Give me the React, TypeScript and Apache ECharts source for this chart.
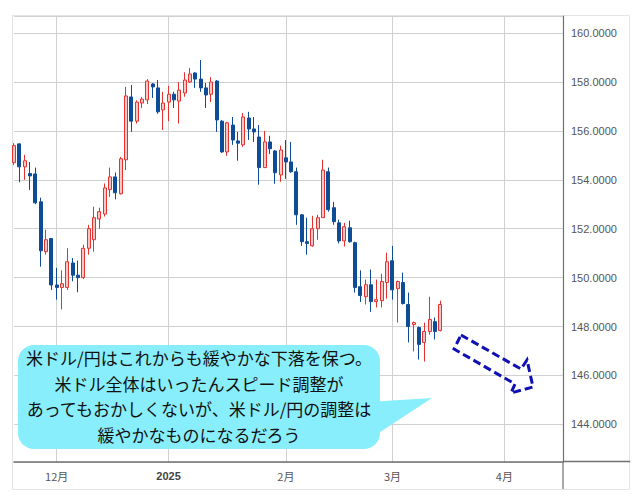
import { useEffect, useRef } from "react";
import * as echarts from "echarts";

// trading days that have a candle
const tradingDays = [
  "2024-11-20", "2024-11-21", "2024-11-22", "2024-11-25", "2024-11-26", "2024-11-27", "2024-11-28", "2024-11-29",
  "2024-12-02", "2024-12-03", "2024-12-04", "2024-12-05", "2024-12-06", "2024-12-09", "2024-12-10", "2024-12-11",
  "2024-12-12", "2024-12-13", "2024-12-16", "2024-12-17", "2024-12-18", "2024-12-19", "2024-12-20", "2024-12-23",
  "2024-12-24", "2024-12-26", "2024-12-27", "2024-12-30", "2024-12-31", "2025-01-02", "2025-01-03", "2025-01-06",
  "2025-01-07", "2025-01-08", "2025-01-09", "2025-01-10", "2025-01-13", "2025-01-14", "2025-01-15", "2025-01-16",
  "2025-01-17", "2025-01-20", "2025-01-21", "2025-01-22", "2025-01-23", "2025-01-24", "2025-01-27", "2025-01-28",
  "2025-01-29", "2025-01-30", "2025-01-31", "2025-02-03", "2025-02-04", "2025-02-05", "2025-02-06", "2025-02-07",
  "2025-02-10", "2025-02-11", "2025-02-12", "2025-02-13", "2025-02-14", "2025-02-17", "2025-02-18", "2025-02-19",
  "2025-02-20", "2025-02-21", "2025-02-24", "2025-02-25", "2025-02-26", "2025-02-27", "2025-02-28", "2025-03-03",
  "2025-03-04", "2025-03-05", "2025-03-06", "2025-03-07", "2025-03-10", "2025-03-11", "2025-03-12", "2025-03-13",
  "2025-03-14",
];

// [open, close, low, high]
const ohlc = [
  [154.7, 155.4, 154.6, 155.5],
  [155.47, 154.53, 153.9, 155.5],
  [154.53, 154.78, 154.0, 155.02],
  [154.26, 154.16, 153.59, 154.73],
  [154.24, 153.06, 153.0, 154.5],
  [153.1, 151.1, 150.45, 153.27],
  [151.06, 151.55, 150.94, 151.96],
  [151.6, 149.7, 149.5, 151.6],
  [149.7, 149.6, 149.1, 150.4],
  [149.6, 149.75, 148.7, 150.3],
  [149.6, 150.65, 149.5, 151.2],
  [150.6, 150.1, 149.85, 150.8],
  [150.1, 150.0, 149.4, 150.7],
  [150.0, 151.2, 149.95, 151.35],
  [151.2, 152.0, 150.94, 152.16],
  [151.55, 152.45, 151.06, 152.9],
  [152.4, 152.7, 152.0, 152.86],
  [152.6, 153.67, 152.5, 153.85],
  [153.6, 154.12, 153.3, 154.5],
  [154.12, 153.47, 153.2, 154.3],
  [153.43, 154.86, 153.4, 154.94],
  [154.82, 157.43, 154.4, 157.8],
  [157.39, 156.4, 155.96, 157.88],
  [156.4, 157.18, 156.3, 157.25],
  [157.14, 157.3, 156.94, 157.39],
  [157.27, 158.04, 157.1, 158.12],
  [157.92, 157.8, 157.35, 157.96],
  [157.76, 156.78, 156.7, 158.08],
  [156.86, 157.14, 156.04, 157.6],
  [157.18, 157.5, 156.4, 157.84],
  [157.5, 157.27, 156.94, 157.6],
  [157.22, 157.67, 156.3, 158.0],
  [157.55, 158.08, 157.4, 158.4],
  [158.0, 158.33, 157.96, 158.57],
  [158.37, 158.12, 157.76, 158.4],
  [158.12, 157.76, 157.6, 158.9],
  [157.76, 157.47, 156.94, 157.96],
  [157.5, 158.0, 157.18, 158.2],
  [158.04, 156.45, 155.96, 158.08],
  [156.4, 155.14, 155.1, 156.45],
  [155.14, 156.33, 154.98, 156.37],
  [156.24, 155.63, 155.43, 156.57],
  [155.59, 155.5, 154.78, 155.96],
  [155.43, 156.57, 155.35, 156.73],
  [156.53, 156.08, 155.63, 156.78],
  [156.08, 155.96, 155.55, 156.57],
  [155.75, 154.5, 153.8, 156.24],
  [154.5, 155.55, 154.5, 156.0],
  [155.55, 155.27, 155.06, 155.8],
  [155.18, 154.29, 153.84, 155.22],
  [154.2, 155.22, 153.92, 155.4],
  [154.9, 154.73, 154.04, 155.63],
  [154.73, 154.33, 154.29, 155.55],
  [154.33, 152.57, 152.16, 154.5],
  [152.57, 151.47, 151.3, 152.6],
  [151.47, 151.4, 150.94, 152.45],
  [151.3, 152.0, 151.27, 152.53],
  [152.0, 152.45, 151.55, 152.57],
  [152.45, 154.4, 152.45, 154.82],
  [154.33, 152.78, 152.7, 154.5],
  [152.86, 152.29, 152.16, 153.1],
  [152.24, 151.5, 151.4, 152.37],
  [151.5, 152.08, 151.27, 152.24],
  [152.04, 151.47, 151.43, 152.33],
  [151.43, 149.6, 149.39, 151.47],
  [149.63, 149.27, 149.0, 150.3],
  [149.22, 149.71, 148.9, 149.92],
  [149.71, 149.02, 148.6, 150.33],
  [149.02, 149.1, 148.78, 149.92],
  [149.06, 149.84, 148.78, 150.16],
  [149.8, 150.65, 149.14, 151.02],
  [150.69, 149.5, 149.1, 151.3],
  [149.55, 149.84, 148.16, 149.88],
  [149.8, 148.94, 148.9, 150.2],
  [148.9, 148.0, 147.35, 149.39],
  [148.08, 148.16, 146.98, 148.2],
  [147.96, 147.27, 146.65, 148.0],
  [147.35, 147.8, 146.57, 148.16],
  [147.8, 148.29, 147.67, 149.22],
  [148.2, 147.8, 147.47, 148.37],
  [147.84, 148.9, 147.8, 149.06],
];

// empty days to the right of the last candle
const futureDays = [
  "2025-03-17", "2025-03-18", "2025-03-19", "2025-03-20", "2025-03-21", "2025-03-24", "2025-03-25", "2025-03-26",
  "2025-03-27", "2025-03-28", "2025-03-31", "2025-04-01", "2025-04-02", "2025-04-03", "2025-04-04", "2025-04-07",
  "2025-04-08", "2025-04-09", "2025-04-10", "2025-04-11", "2025-04-14", "2025-04-15", "2025-04-16",
];

const monthLabels: Record<string, string> = {
  "2024-12-02": "12月",
  "2025-01-02": "2025",
  "2025-02-03": "2月",
  "2025-03-03": "3月",
  "2025-04-01": "4月",
};

const noteLines = [
  "米ドル/円はこれからも緩やかな下落を保つ。",
  "米ドル全体はいったんスピード調整が",
  "あってもおかしくないが、米ドル/円の調整は",
  "緩やかなものになるだろう",
];

const UP = "#e5322f";
const UP_FILL = "#fbc6c6";
const DOWN = "#0f4c97";
const GRID = "#d0d0d0";
const AXIS = "#707070";

export default function App() {
  const containerRef = useRef<HTMLDivElement | null>(null);

  useEffect(() => {
    if (!containerRef.current) return;
    const chart = echarts.init(containerRef.current, null, { renderer: "svg" });
    const categories = [...tradingDays, ...futureDays];
    const isMonthStart = (_i: number, value: string) => value in monthLabels;

    chart.setOption({
      animation: false,
      grid: { left: 14, right: 77, top: 16, bottom: 38 },
      xAxis: {
        type: "category",
        data: categories,
        boundaryGap: false,
        axisLine: { show: true, lineStyle: { color: AXIS, width: 1.5 } },
        axisTick: { show: false },
        axisLabel: {
          interval: isMonthStart,
          formatter: (v: string) => {
            const label = monthLabels[v] ?? "";
            return label === "2025" ? `{b|${label}}` : label;
          },
          color: "#555",
          fontSize: 11,
          fontFamily: "Noto Sans CJK JP",
          margin: 8,
          rich: { b: { fontWeight: "bold", fontSize: 11, color: "#444", fontFamily: "Liberation Sans" } },
        },
        splitLine: { show: true, interval: isMonthStart, lineStyle: { color: GRID, width: 1 } },
      },
      yAxis: {
        type: "value",
        position: "right",
        min: 142.46,
        max: 160.7,
        splitNumber: 9,
        axisLine: { show: true, lineStyle: { color: AXIS, width: 1.2 } },
        axisTick: { show: false },
        axisLabel: {
          color: "#555",
          fontSize: 11,
          fontFamily: "Liberation Sans",
          margin: 8,
          formatter: (v: number) => {
            const r = Math.round(v);
            return Math.abs(v - r) < 1e-6 && r % 2 === 0 ? v.toFixed(4) : "";
          },
        },
        splitLine: { show: true, lineStyle: { color: GRID, width: 1 } },
      },
      series: [
        {
          type: "candlestick",
          data: ohlc,
          barWidth: 3.5,
          clip: true,
          itemStyle: {
            color: UP_FILL,
            borderColor: UP,
            color0: DOWN,
            borderColor0: DOWN,
            borderWidth: 1,
          },
        },
      ],
      graphic: [
        {
          type: "rect",
          silent: true,
          z: -1,
          shape: { x: 12.5, y: 15.5, width: 617, height: 474 },
          style: { fill: "none", stroke: "#e4e4e4", lineWidth: 1 },
        },
        {
          type: "line",
          silent: true,
          shape: { x1: 563, y1: 461.5, x2: 630, y2: 461.5 },
          style: { stroke: AXIS, lineWidth: 1.5 },
        },
        {
          type: "line",
          silent: true,
          shape: { x1: 563, y1: 461.5, x2: 563, y2: 489 },
          style: { stroke: AXIS, lineWidth: 1.2 },
        },
        {
          type: "polygon",
          silent: true,
          z: 10,
          shape: { points: [[368, 402], [432, 398], [368, 440]] },
          style: { fill: "#88eefc" },
        },
        {
          type: "rect",
          silent: true,
          z: 10,
          shape: { x: 18, y: 345, width: 362, height: 104, r: 16 },
          style: { fill: "#88eefc" },
        },
        {
          type: "text",
          silent: true,
          z: 11,
          style: {
            text: noteLines.join("\n"),
            x: 199,
            y: 396,
            align: "center",
            verticalAlign: "middle",
            fontSize: 17,
            fontFamily: "Noto Sans CJK JP",
            lineHeight: 25.5,
            fill: "#111",
          },
        },
        {
          type: "polygon",
          silent: true,
          z: 10,
          shape: {
            points: [[461, 335], [521, 369], [527, 360], [533, 387], [511, 393], [515, 384], [454, 349]],
          },
          style: { fill: "none", stroke: "#1010b4", lineWidth: 3, lineDash: [8, 4] },
        },
      ],
    });

    return () => chart.dispose();
  }, []);

  return (
    <div
      ref={containerRef}
      style={{ position: "absolute", left: 0, top: 0, width: 640, height: 500, background: "#fff" }}
    />
  );
}
